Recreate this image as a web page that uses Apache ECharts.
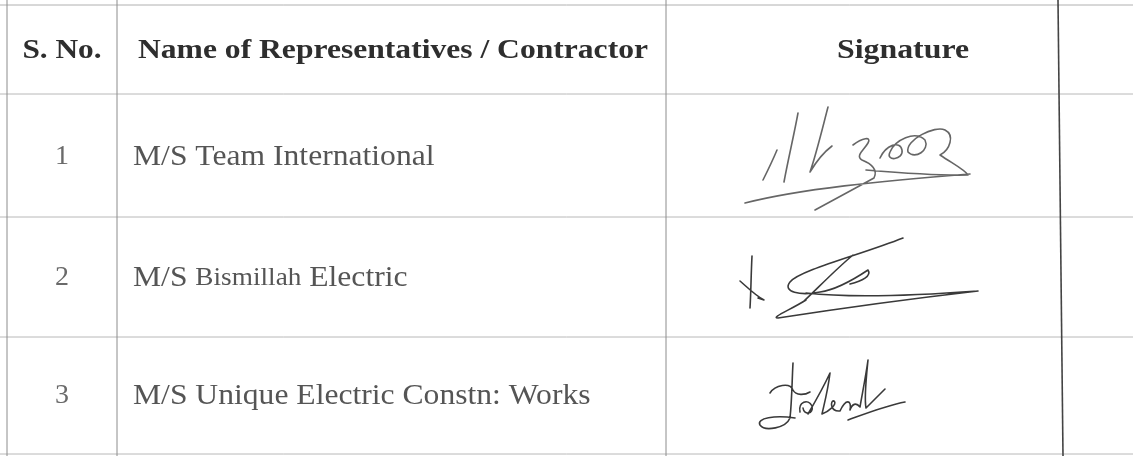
<!DOCTYPE html>
<html>
<head>
<meta charset="utf-8">
<script src="https://cdn.jsdelivr.net/npm/echarts@6/dist/echarts.min.js"></script>
<style>
  html, body { margin: 0; padding: 0; background: #fff; }
  #chart { width: 1133px; height: 456px; }
</style>
</head>
<body>
<div id="chart"></div>
<script>
  // table content
  var headers = ['S. No.', 'Name of Representatives / Contractor', 'Signature']
  var serials = ['1', '2', '3']
  var names = ['M/S Team International', 'M/S Bismillah Electric', 'M/S Unique Electric Constn: Works']
  var smallWords = ['', 'Bismillah', '']

  // layout (pixels, axes are 1:1 with the canvas)
  var W = 1133, H = 456
  var colX = [7, 117, 666, 1061]
  var rowY = [5, 94, 217, 337, 454]
  var textY = [51, 157, 278, 396]
  var FONT = 'Liberation Serif'

  var myChart = echarts.init(document.getElementById('chart'))

  function nameText(i) {
    var s = names[i], w = smallWords[i]
    if (!w) return { text: s, rich: null }
    var k = s.indexOf(w)
    return {
      text: '{n|' + s.slice(0, k) + '}{s|' + w + '}{n|' + s.slice(k + w.length) + '}',
      rich: {
        n: { fontFamily: FONT, fontSize: 29, color: '#555' },
        s: { fontFamily: FONT, fontSize: 25, color: '#555' }
      }
    }
  }

  function hline(api, y, color) {
    var a = api.coord([0, y]), b = api.coord([W, y])
    return { type: 'line', shape: { x1: a[0], y1: a[1], x2: b[0], y2: b[1] },
      style: { stroke: color, lineWidth: 1 } }
  }

  function renderRow(params, api) {
    var r = api.value(0)
    var p = function (x, y) { return api.coord([x, y]) }
    var kids = [hline(api, rowY[r + 1], '#b8b8b8')]
    if (r === 0) {
      kids.push(hline(api, rowY[0], '#b0b0b0'))
      var hs = { fontFamily: FONT, fontSize: 27, fontWeight: 'bold', fill: '#2e2e2e', verticalAlign: 'middle' }
      var c0 = p(62, textY[0]), c1 = p(138, textY[0]), c2 = p(903, textY[0])
      kids.push({ type: 'text', x: c0[0], y: c0[1], scaleX: 1.16, style: Object.assign({ text: headers[0], align: 'center' }, hs) })
      kids.push({ type: 'text', x: c1[0], y: c1[1], scaleX: 1.17, style: Object.assign({ text: headers[1], align: 'left' }, hs) })
      kids.push({ type: 'text', x: c2[0], y: c2[1], scaleX: 1.18, style: Object.assign({ text: headers[2], align: 'center' }, hs) })
    } else {
      var i = r - 1
      var s0 = p(62, textY[r]), s1 = p(133, textY[r])
      kids.push({ type: 'text', x: s0[0], y: s0[1], style: {
        text: serials[i], align: 'center', verticalAlign: 'middle',
        fontFamily: FONT, fontSize: 28, fill: '#6a6a6a' } })
      var nt = nameText(i)
      kids.push({ type: 'text', x: s1[0], y: s1[1], scaleX: 1.09, style: {
        text: nt.text, rich: nt.rich, align: 'left', verticalAlign: 'middle',
        fontFamily: FONT, fontSize: 29, fill: '#555' } })
    }
    return { type: 'group', children: kids }
  }

  function renderCols(params, api) {
    var c = api.value(0)
    var a = api.coord([colX[c] - (c === 3 ? 3 : 0), 0]), b = api.coord([colX[c] + (c === 3 ? 2 : 0), H])
    return { type: 'line', shape: { x1: a[0], y1: a[1], x2: b[0], y2: b[1] },
      style: { stroke: c === 3 ? '#444' : '#8c8c8c', lineWidth: c === 3 ? 1.6 : 1 } }
  }

  // signatures (hand strokes, not data)
  var sigPaths = [
    'M798,113 C794,135 788,160 784,182 M777,150 C772,162 767,172 763,180 ' +
    'M828,107 C822,130 816,155 810,172 C816,162 824,152 832,146 ' +
    'M853,145 C862,138 872,136 868,143 C864,150 855,156 862,160 C872,164 878,170 874,178 L815,210 ' +
    'M880,158 C886,145 900,140 902,150 C904,160 885,162 890,152 C895,140 915,130 925,140 C930,150 915,160 908,152 ' +
    'C905,140 935,125 945,130 C955,135 950,150 940,155 C955,165 965,170 968,175 C940,176 890,172 866,170 ' +
    'M745,203 C800,189 880,181 970,174',
    'M752,256 C751,275 751,292 750,308 M740,281 C748,288 756,296 764,300 L758,298 ' +
    'M903,238 C860,255 800,270 790,282 C782,292 800,296 820,292 C835,290 850,282 868,270 C872,276 862,281 850,284 ' +
    'M803,302 C818,288 835,270 853,255 ' +
    'M806,293 C850,298 910,296 978,291 ' +
    'M806,300 C790,310 770,318 778,318 C830,310 900,300 978,291',
    'M770,393 C775,385 790,382 793,390 C796,396 805,395 810,392 ' +
    'M793,363 C792,380 792,400 790,418 C786,428 765,432 760,425 C756,418 775,415 795,418 ' +
    'M800,412 C798,402 808,398 812,406 C814,414 804,416 803,408 ' +
    'M808,414 C815,402 824,386 830,373 C828,390 824,405 822,414 C828,412 838,404 834,401 C830,400 830,412 840,411 ' +
    'M840,411 C846,398 852,400 850,410 C852,404 856,402 860,407 ' +
    'M860,407 C862,395 866,375 868,360 C866,380 864,398 866,408 C872,402 878,396 885,389 ' +
    'M848,420 C870,412 888,405 905,402'
  ]
  var sigColors = ['#666', '#3a3a3a', '#3a3a3a']

  function renderSig(params, api) {
    var k = api.value(0)
    return { type: 'path', shape: { pathData: sigPaths[k] },
      style: { stroke: sigColors[k], lineWidth: 1.6, fill: null, lineCap: 'round', lineJoin: 'round' } }
  }

  var option = {
    animation: false,
    grid: { left: 0, right: 0, top: 0, bottom: 0 },
    xAxis: { type: 'value', min: 0, max: W, show: false },
    yAxis: { type: 'value', min: 0, max: H, inverse: true, show: false },
    series: [{
      type: 'custom',
      renderItem: renderRow,
      data: [[0], [1], [2], [3]],
      silent: true
    }, {
      type: 'custom',
      renderItem: renderCols,
      data: [[0], [1], [2], [3]],
      silent: true
    }, {
      type: 'custom',
      renderItem: renderSig,
      data: [[0], [1], [2]],
      silent: true
    }]
  }
  option && myChart.setOption(option)
  window.addEventListener('resize', myChart.resize)
</script>
</body>
</html>
